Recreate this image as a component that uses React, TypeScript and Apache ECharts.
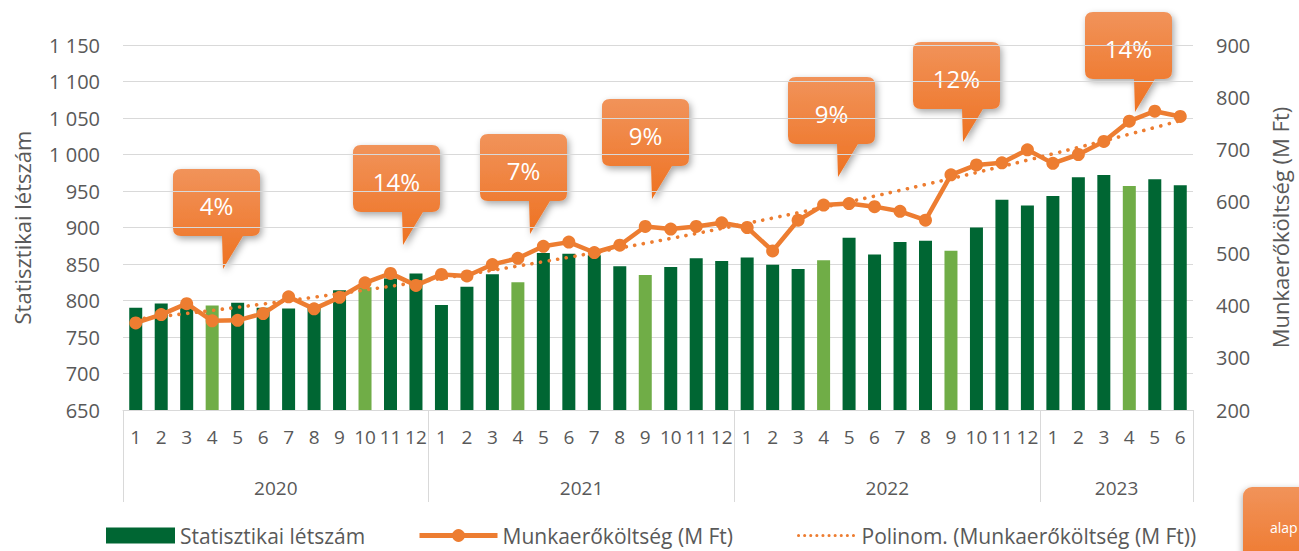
import React, { useEffect, useRef } from 'react';
import * as echarts from 'echarts';

// ---- data ----
const years = ['2020', '2021', '2022', '2023'];
const monthsPerYear = [12, 12, 12, 6];
const monthLabels = [
  '1', '2', '3', '4', '5', '6', '7', '8', '9', '10', '11', '12',
  '1', '2', '3', '4', '5', '6', '7', '8', '9', '10', '11', '12',
  '1', '2', '3', '4', '5', '6', '7', '8', '9', '10', '11', '12',
  '1', '2', '3', '4', '5', '6',
];
// Statisztikai létszám (fő)
const headcount = [
  790, 796, 793, 793, 797, 790, 789, 792, 814, 818, 830, 837,
  794, 819, 836, 825, 865, 864, 862, 847, 835, 846, 858, 854,
  859, 849, 843, 855, 886, 863, 880, 882, 868, 900, 938, 930,
  943, 969, 972, 957, 966, 958,
];
// Munkaerőköltség (M Ft)
const laborCost = [
  367, 383, 404, 371, 372, 385, 417, 394, 416, 444, 462, 439,
  460, 457, 479, 491, 514, 522, 502, 516, 552, 547, 552, 559,
  550, 505, 564, 593, 596, 590, 581, 564, 651, 670, 674, 699,
  673, 690, 715, 754, 773, 763,
];
// months drawn in the lighter green
const lighterMonthIdx = [3, 9, 15, 20, 27, 32, 39];
// growth callouts
const calloutLabels = ['4%', '14%', '7%', '9%', '9%', '12%', '14%'];
const sideNote = 'alap';

const SERIES_BAR = 'Statisztikai létszám';
const SERIES_LINE = 'Munkaerőköltség (M Ft)';
const SERIES_TREND = 'Polinom. (Munkaerőköltség (M Ft))';

// ---- layout / style ----
const FONT = "'Open Sans', 'Noto Sans', sans-serif";
const GREY = '#595959';
const GRID_LINE = '#d9d9d9';
const DARK_GREEN = '#006633';
const LIGHT_GREEN = '#70AD47';
const ORANGE = '#ED7D31';
const TREND_DASH = [0.1, 8.6];
const calloutBoxes = [
  [173, 169], [353, 145], [480, 134], [602, 99], [788, 77], [913, 42], [1085, 12],
];

// second-order least-squares polynomial (Excel-style trendline, x = 1..n)
function quadraticTrend(ys: number[]): number[] {
  let s0 = 0, s1 = 0, s2 = 0, s3 = 0, s4 = 0, t0 = 0, t1 = 0, t2 = 0;
  ys.forEach((y, i) => {
    const x = i + 1;
    s0 += 1; s1 += x; s2 += x * x; s3 += x ** 3; s4 += x ** 4;
    t0 += y; t1 += x * y; t2 += x * x * y;
  });
  const det3 = (m: number[][]) =>
    m[0][0] * (m[1][1] * m[2][2] - m[1][2] * m[2][1]) -
    m[0][1] * (m[1][0] * m[2][2] - m[1][2] * m[2][0]) +
    m[0][2] * (m[1][0] * m[2][1] - m[1][1] * m[2][0]);
  const A = [[s0, s1, s2], [s1, s2, s3], [s2, s3, s4]];
  const B = [t0, t1, t2];
  const D = det3(A);
  const coef = [0, 1, 2].map((k) => det3(A.map((row, r) => row.map((v, c) => (c === k ? B[r] : v)))) / D);
  return ys.map((_, i) => {
    const x = i + 1;
    return +(coef[0] + coef[1] * x + coef[2] * x * x).toFixed(2);
  });
}

const calloutPath =
  'M8,0 L79,0 Q87,0 87,8 L87,59 Q87,67 79,67 L70,67 L50,100 L49,67 L8,67 Q0,67 0,59 L0,8 Q0,0 8,0 Z';
echarts.graphic.registerShape('callout', echarts.graphic.extendPath(calloutPath, {}) as any);

function orangeFill() {
  return new echarts.graphic.LinearGradient(0, 0, 0, 1, [
    { offset: 0, color: '#F1935A' },
    { offset: 1, color: '#EE7222' },
  ]);
}

export default function App() {
  const ref = useRef<HTMLDivElement>(null);

  useEffect(() => {
    if (!ref.current) return;
    const chart = echarts.init(ref.current, undefined, { renderer: 'svg' });

    // year boundaries and label centres on a 0..n linear scale
    const bounds: number[] = [0];
    monthsPerYear.forEach((m) => bounds.push(bounds[bounds.length - 1] + m));
    const yearCentres = years.map((_, i) => (bounds[i] + bounds[i + 1]) / 2);
    const total = bounds[bounds.length - 1];

    const trend = quadraticTrend(laborCost);

    const graphics: any[] = [];
    calloutLabels.forEach((label, i) => {
      const [x, y] = calloutBoxes[i];
      graphics.push({
        type: 'group',
        x,
        y,
        z: 100,
        children: [
          {
            type: 'callout',
            style: {
              fill: orangeFill(),
              shadowBlur: 7,
              shadowColor: 'rgba(0,0,0,0.35)',
              shadowOffsetX: 2,
              shadowOffsetY: 3,
            },
          },
          {
            type: 'text',
            x: 43.5,
            y: 36,
            style: {
              text: label,
              fill: '#ffffff',
              fontSize: 24,
              fontFamily: FONT,
              align: 'center',
              verticalAlign: 'middle',
            },
          },
        ],
      });
    });
    graphics.push({
      type: 'rect',
      z: 100,
      shape: { x: 1243, y: 487, width: 120, height: 100, r: 9 },
      style: {
        fill: orangeFill(),
        shadowBlur: 6,
        shadowColor: 'rgba(0,0,0,0.3)',
        shadowOffsetX: -1,
        shadowOffsetY: 2,
      },
    });
    graphics.push({
      type: 'text',
      z: 101,
      x: 1270,
      y: 527,
      style: {
        text: sideNote,
        fill: '#ffffff',
        fontSize: 14,
        fontFamily: FONT,
        align: 'left',
        verticalAlign: 'middle',
      },
    });

    const legendText = { fontSize: 21, color: GREY, fontFamily: FONT };

    chart.setOption({
      animation: false,
      backgroundColor: '#ffffff',
      grid: { left: 123, right: 97, top: 45, bottom: 141, containLabel: false },
      legend: [
        {
          data: [SERIES_BAR],
          left: 106,
          top: 525,
          itemWidth: 69,
          itemHeight: 16,
          icon: 'rect',
          textStyle: legendText,
          padding: 0,
        },
        {
          data: [SERIES_LINE],
          left: 417,
          top: 525,
          itemWidth: 78,
          itemHeight: 16,
          textStyle: legendText,
          lineStyle: { width: 5 },
          padding: 0,
        },
        {
          data: [SERIES_TREND],
          left: 797,
          top: 525,
          itemWidth: 58,
          itemHeight: 16,
          textStyle: legendText,
          itemStyle: { opacity: 0 },
          lineStyle: { width: 3, type: [0.1, 6] },
          padding: 0,
        },
      ],
      xAxis: [
        {
          type: 'category',
          data: monthLabels,
          boundaryGap: true,
          axisLine: { show: true, lineStyle: { color: GRID_LINE, width: 1 } },
          axisTick: { show: false },
          axisLabel: {
            interval: 0,
            fontSize: 19,
            color: GREY,
            fontFamily: FONT,
            margin: 17,
          },
        },
        {
          type: 'value',
          position: 'bottom',
          min: 0,
          max: total,
          axisLine: { show: false },
          splitLine: { show: false },
          axisTick: {
            show: true,
            customValues: bounds,
            length: 92,
            lineStyle: { color: GRID_LINE, width: 1 },
          },
          axisLabel: {
            customValues: yearCentres,
            formatter: (v: number) => years[yearCentres.indexOf(v)] ?? '',
            fontSize: 19,
            color: GREY,
            fontFamily: FONT,
            margin: 68,
          },
        },
      ],
      yAxis: [
        {
          type: 'value',
          position: 'left',
          min: 650,
          max: 1150,
          interval: 50,
          name: SERIES_BAR,
          nameLocation: 'middle',
          nameRotate: 90,
          nameGap: 90,
          nameTextStyle: { fontSize: 22, color: GREY, fontFamily: FONT },
          axisLine: { show: false },
          axisTick: { show: false },
          axisLabel: {
            fontSize: 20,
            color: GREY,
            fontFamily: FONT,
            margin: 23,
            formatter: (v: number) => String(v).replace(/\B(?=(\d{3})+(?!\d))/g, ' '),
          },
          splitLine: { show: true, lineStyle: { color: GRID_LINE, width: 1 } },
        },
        {
          type: 'value',
          position: 'right',
          min: 200,
          max: 900,
          interval: 100,
          name: SERIES_LINE,
          nameLocation: 'middle',
          nameRotate: 90,
          nameGap: 76,
          nameTextStyle: { fontSize: 22, color: GREY, fontFamily: FONT },
          axisLine: { show: false },
          axisTick: { show: false },
          axisLabel: { fontSize: 20, color: GREY, fontFamily: FONT, margin: 23 },
          splitLine: { show: false },
        },
      ],
      series: [
        {
          name: SERIES_BAR,
          type: 'bar',
          xAxisIndex: 0,
          yAxisIndex: 0,
          barWidth: 13,
          itemStyle: { color: DARK_GREEN },
          data: headcount.map((v, i) =>
            lighterMonthIdx.includes(i) ? { value: v, itemStyle: { color: LIGHT_GREEN } } : v
          ),
          z: 2,
        },
        {
          name: SERIES_TREND,
          type: 'line',
          xAxisIndex: 0,
          yAxisIndex: 1,
          data: trend,
          symbol: 'none',
          smooth: true,
          itemStyle: { color: ORANGE },
          lineStyle: { color: ORANGE, width: 3.6, type: TREND_DASH, cap: 'round' },
          z: 3,
        },
        {
          name: SERIES_LINE,
          type: 'line',
          xAxisIndex: 0,
          yAxisIndex: 1,
          data: laborCost,
          symbol: 'circle',
          symbolSize: 13,
          itemStyle: { color: ORANGE },
          lineStyle: { color: ORANGE, width: 4.5 },
          z: 4,
        },
      ],
      graphic: graphics,
    });

    return () => chart.dispose();
  }, []);

  return (
    <div
      ref={ref}
      style={{ position: 'absolute', left: 0, top: 0, width: 1299, height: 551, background: '#fff' }}
    />
  );
}
